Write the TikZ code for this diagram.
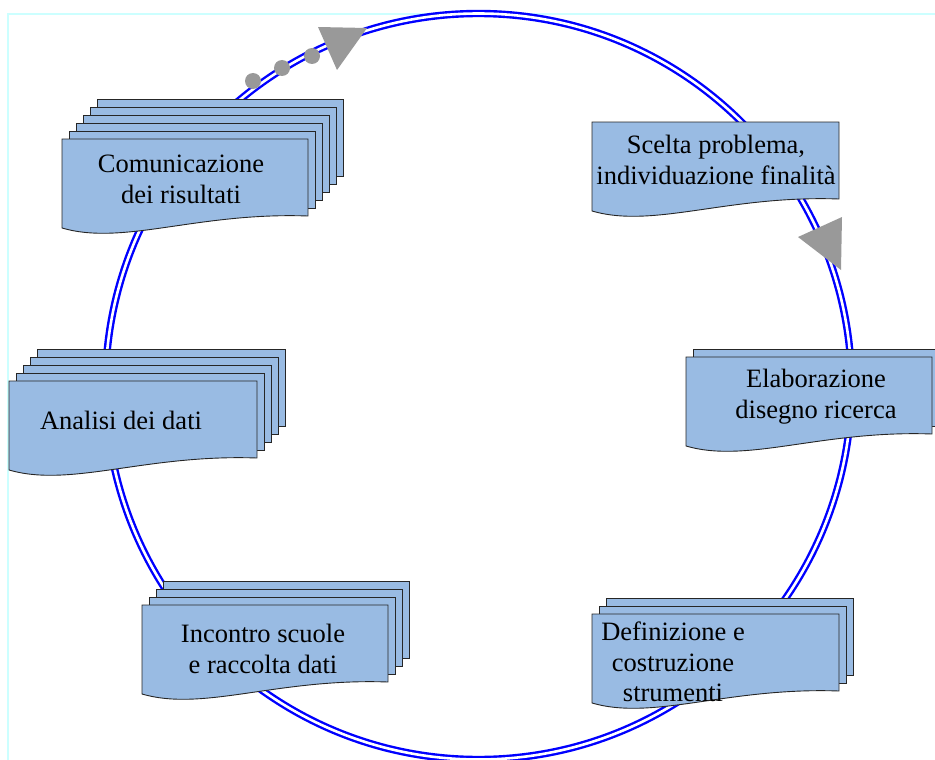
\documentclass[tikz,border=0pt]{standalone}
\usepackage{fontspec}
\setmainfont{Liberation Serif}
\usepackage{xcolor}
\definecolor{SheetBlue}{HTML}{99BBE3}
\definecolor{RingBlue}{HTML}{0000FF}
\definecolor{FrameCyan}{HTML}{CCFFFF}
\definecolor{MarkGray}{HTML}{999999}
\usepackage{tikz}

% stacked sheets: x, y (top left of front sheet), width, number of back sheets
\newcommand{\multidoc}[4]{%
  \ifnum#4>0
    \foreach \k in {#4,...,1}{
      \filldraw[sheet] ({#1+7*\k},{#2-8*\k}) rectangle ({#1+#3+7*\k},{#2+77-8*\k});
    }
  \fi
  \filldraw[sheet] (#1,#2) -- ({#1+#3},#2) -- ({#1+#3},{#2+77})
    .. controls ({#1+0.55*#3},{#2+73}) and ({#1+0.25*#3},{#2+107}) .. (#1,{#2+89}) -- cycle;
}

\begin{document}
\begin{tikzpicture}[
  x=1pt,y=-1pt,
  sheet/.style={fill=SheetBlue,draw=black!85,line width=0.9pt},
  ring/.style={draw=RingBlue,double=white,line width=2.4pt,double distance=2.6pt},
  lbl/.style={align=center,inner sep=0pt,font=\fontsize{26.5}{31}\selectfont},
  dirmark/.style={fill=MarkGray}
]
  \useasboundingbox (0,0) rectangle (935,760);
  \draw[FrameCyan,line width=1.5pt] (935,14) -- (8,14) -- (8,760);

  % cycle ring
  \coordinate (hub) at (478.5,386.5);
  \path[ring] (hub) circle[radius=373];

  % direction marks
  \fill[dirmark] (318,27) -- (367,28) -- (337,70) -- cycle;
  \foreach \px/\py in {253/81,282/68,312/56}
    \fill[dirmark] (\px,\py) circle[radius=8];
  \fill[dirmark] (798,237) -- (842,217) -- (841,270) -- cycle;

  % steps
  \multidoc{592}{122}{247}{0}
  \node[lbl] (scelta) at (716,160) {Scelta problema,\\individuazione finalità};

  \multidoc{686}{357}{246}{1}
  \node[lbl] (elab) at (816,397) {Elaborazione\\disegno ricerca};

  \multidoc{592}{614}{247}{2}
  \node[lbl,font=\fontsize{26.5}{30.5}\selectfont] (defin) at (673,662) {Definizione e\\costruzione\\strumenti};

  \multidoc{142}{605}{246}{3}
  \node[lbl] (incontro) at (263,649) {Incontro scuole\\e raccolta dati};

  \multidoc{9}{381}{248}{4}
  \node[lbl] (analisi) at (121,420) {Analisi dei dati};

  \multidoc{62}{139}{246}{5}
  \node[lbl] (comm) at (181,179) {Comunicazione\\dei risultati};
\end{tikzpicture}
\end{document}
